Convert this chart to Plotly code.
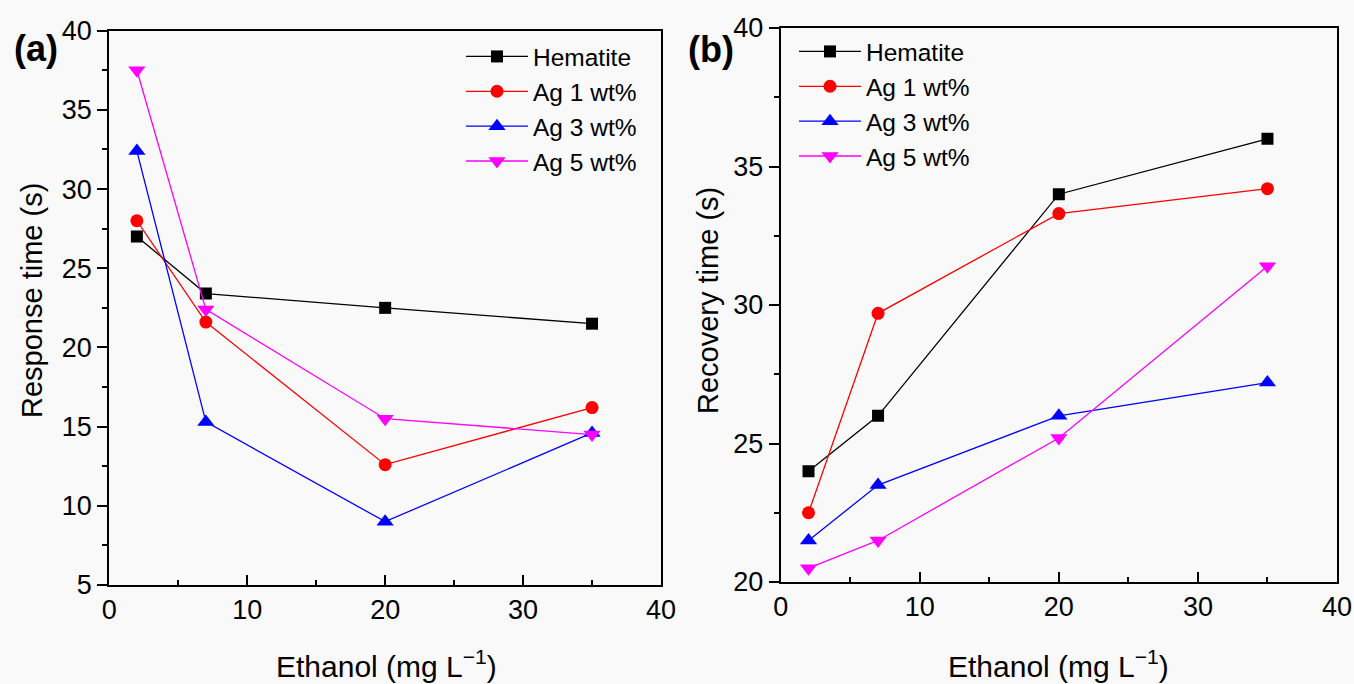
import plotly.graph_objects as go

W, H = 1354, 684

ethanol = [2, 7, 20, 35]
series_names = ["Hematite", "Ag 1 wt%", "Ag 3 wt%", "Ag 5 wt%"]
response_hematite = [27.0, 23.4, 22.5, 21.5]
response_ag1 = [28.0, 21.6, 12.6, 16.2]
response_ag3 = [32.4, 15.3, 9.0, 14.6]
response_ag5 = [37.5, 22.4, 15.5, 14.5]
recovery_hematite = [24.0, 26.0, 34.0, 36.0]
recovery_ag1 = [22.5, 29.7, 33.3, 34.2]
recovery_ag3 = [21.5, 23.5, 26.0, 27.2]
recovery_ag5 = [20.5, 21.5, 25.2, 31.4]

colors = ["#000000", "#ff0000", "#0000ff", "#ff00ff"]
symbols = ["square", "circle", "triangle-up", "triangle-down"]
msizes = [12, 13, 15, 15]

FONT = "Liberation Sans, Arial, sans-serif"

def px_x(p):
    return p / W

def px_y(p):
    return 1 - p / H

fig = go.Figure()

resp = [response_hematite, response_ag1, response_ag3, response_ag5]
reco = [recovery_hematite, recovery_ag1, recovery_ag3, recovery_ag5]

for i, name in enumerate(series_names):
    fig.add_trace(go.Scatter(
        x=ethanol, y=resp[i], name=name, mode="lines+markers",
        line=dict(color=colors[i], width=1.3),
        marker=dict(symbol=symbols[i], size=msizes[i], color=colors[i]),
        xaxis="x", yaxis="y", legend="legend"))
for i, name in enumerate(series_names):
    fig.add_trace(go.Scatter(
        x=ethanol, y=reco[i], name=name, mode="lines+markers",
        line=dict(color=colors[i], width=1.3),
        marker=dict(symbol=symbols[i], size=msizes[i], color=colors[i]),
        xaxis="x2", yaxis="y2", legend="legend2"))

tickfont = dict(family=FONT, size=27, color="#000000")
xcommon = dict(range=[0, 40], dtick=10, tick0=0, ticks="inside", ticklen=10, tickwidth=2,
               tickcolor="#000", showline=True, linewidth=2, linecolor="#000", mirror=True,
               showgrid=False, zeroline=False, tickfont=tickfont, automargin=False,
               minor=dict(dtick=5, ticks="inside", ticklen=5, tickwidth=2, tickcolor="#000", showgrid=False))
ycommon = dict(dtick=5, ticks="outside", ticklen=10, tickwidth=2,
               tickcolor="#000", showline=True, linewidth=2, linecolor="#000", mirror=True,
               showgrid=False, zeroline=False, tickfont=tickfont, automargin=False,
               minor=dict(dtick=2.5, ticks="outside", ticklen=5, tickwidth=2, tickcolor="#000", showgrid=False))

fig.update_layout(
    width=W, height=H,
    margin=dict(l=0, r=0, t=0, b=0, pad=0, autoexpand=False),
    paper_bgcolor="#f9f9f9", plot_bgcolor="#f9f9f9",
    font=dict(family=FONT, color="#000"),
    xaxis=dict(domain=[px_x(109.3), px_x(661)], anchor="y", **xcommon),
    yaxis=dict(domain=[px_y(585), px_y(30.7)], anchor="x", range=[5, 40], tick0=5, **ycommon),
    xaxis2=dict(domain=[px_x(780.7), px_x(1337)], anchor="y2", **xcommon),
    yaxis2=dict(domain=[px_y(582), px_y(28)], anchor="x2", range=[20, 40], tick0=20, **ycommon),
    legend=dict(x=px_x(461), y=px_y(34), xanchor="left", yanchor="top",
                bgcolor="rgba(0,0,0,0)", borderwidth=0, itemwidth=62,
                font=dict(family=FONT, size=24.5, color="#000")),
    legend2=dict(x=px_x(794), y=px_y(29), xanchor="left", yanchor="top",
                 bgcolor="rgba(0,0,0,0)", borderwidth=0, itemwidth=62,
                 font=dict(family=FONT, size=24.5, color="#000")),
    showlegend=True,
)

ann = []
ann.append(dict(text="Response time (s)", x=px_x(32), y=px_y(301), textangle=-90,
                font=dict(family=FONT, size=29, color="#000")))
ann.append(dict(text="Recovery time (s)", x=px_x(708), y=px_y(301), textangle=-90,
                font=dict(family=FONT, size=29, color="#000")))
ann.append(dict(text="Ethanol (mg L<sup>−1</sup>)", x=px_x(386), y=px_y(664),
                font=dict(family=FONT, size=30, color="#000")))
ann.append(dict(text="Ethanol (mg L<sup>−1</sup>)", x=px_x(1058), y=px_y(664),
                font=dict(family=FONT, size=30, color="#000")))
ann.append(dict(text="<b>(a)</b>", x=px_x(36), y=px_y(48),
                font=dict(family=FONT, size=36, color="#000")))
ann.append(dict(text="<b>(b)</b>", x=px_x(711), y=px_y(50),
                font=dict(family=FONT, size=36, color="#000")))
for a in ann:
    a.update(xref="paper", yref="paper", showarrow=False, xanchor="center", yanchor="middle")
fig.update_layout(annotations=ann)

fig.write_html("out.html")
